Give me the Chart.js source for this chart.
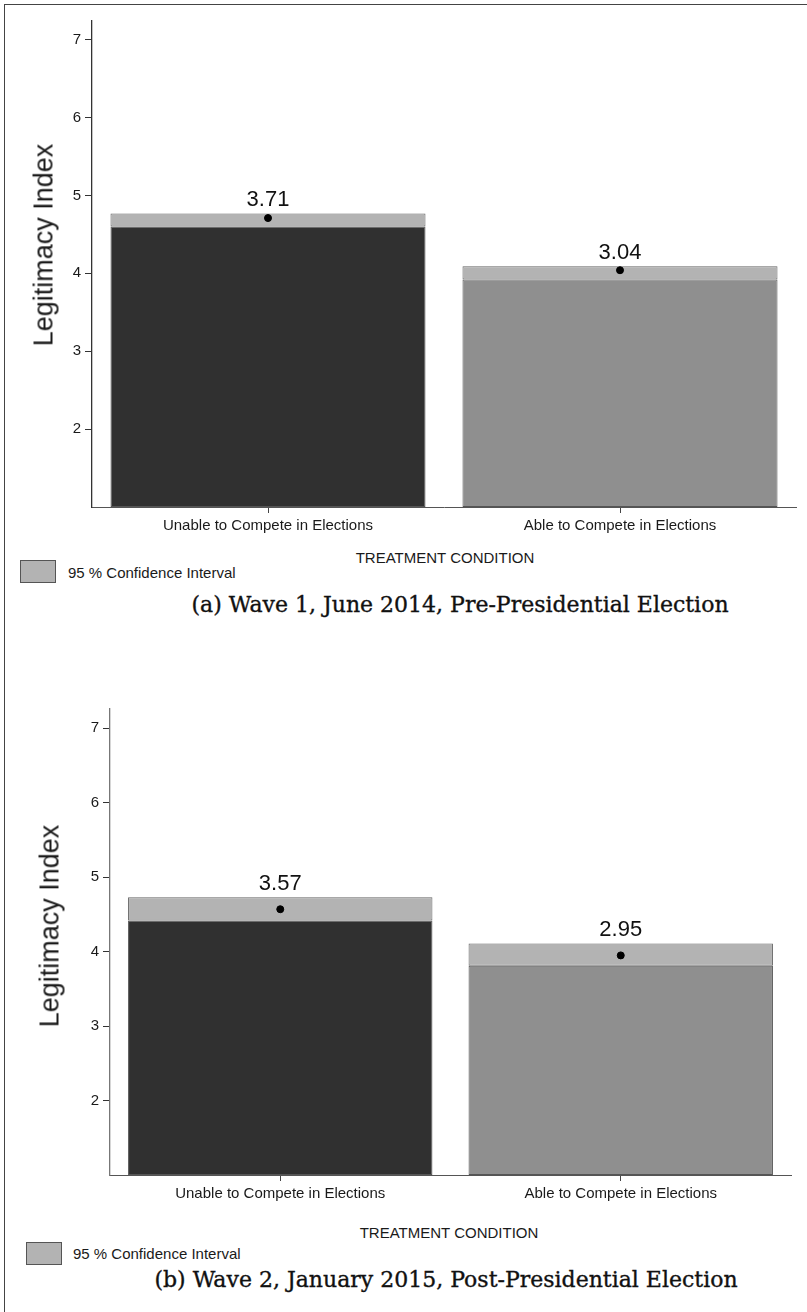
<!DOCTYPE html>
<html>
<head>
<meta charset="utf-8">
<script src="https://cdn.jsdelivr.net/npm/chart.js@4"></script>
<style>
  html, body { margin: 0; padding: 0; background: #fff; }
  body { width: 807px; height: 1312px; position: relative; overflow: hidden; font-family: "Liberation Sans", Arial, sans-serif; color: #1a1a1a; }
  .frame-left { position: absolute; left: 4px; top: 4px; width: 1px; height: 1308px; background: #444; }
  .frame-top { position: absolute; left: 4px; top: 4px; width: 803px; height: 1px; background: #444; }
  canvas { position: absolute; left: 0; }
  .ytitle { position: absolute; font-size: 27px; white-space: nowrap; transform: translate(-50%, -50%) rotate(-90deg); line-height: 1; }
  .xtitle { position: absolute; font-size: 15px; white-space: nowrap; transform: translate(-50%, -50%); line-height: 1; }
  .legend-box { position: absolute; width: 34px; height: 21px; background: #b3b3b3; border: 1px solid #555; }
  .legend-text { position: absolute; font-size: 15px; white-space: nowrap; transform: translateY(-50%); line-height: 1; }
  .caption { position: absolute; font-family: "DejaVu Serif", "Liberation Serif", serif; font-size: 22px; white-space: nowrap; transform: translate(-50%, -50%); line-height: 1; color: #111; -webkit-text-stroke: 0.35px #111; }
</style>
</head>
<body>
<div class="frame-left"></div>
<div class="frame-top"></div>

<canvas id="wave1" width="807" height="545" style="top:0px"></canvas>
<div class="ytitle" style="left:44px; top:245px">Legitimacy Index</div>
<div class="xtitle" style="left:445px; top:557px">TREATMENT CONDITION</div>
<div class="legend-box" style="left:20px; top:560px"></div>
<div class="legend-text" style="left:68px; top:572px">95 % Confidence Interval</div>
<div class="caption" style="left:460px; top:605px">(a) Wave 1, June 2014, Pre-Presidential Election</div>

<canvas id="wave2" width="807" height="545" style="top:670px"></canvas>
<div class="ytitle" style="left:50px; top:926px">Legitimacy Index</div>
<div class="xtitle" style="left:449px; top:1232px">TREATMENT CONDITION</div>
<div class="legend-box" style="left:26px; top:1242px"></div>
<div class="legend-text" style="left:73px; top:1253px">95 % Confidence Interval</div>
<div class="caption" style="left:446px; top:1280px">(b) Wave 2, January 2015, Post-Presidential Election</div>

<script>
// Treatment conditions on the x axis
const categories = ['Unable to Compete in Elections', 'Able to Compete in Elections'];

// Wave 1 (June 2014): mean legitimacy and 95% confidence bounds, measured above the scale floor of 1
const wave1Means = [3.71, 3.04];
const wave1Lower = [3.60, 2.92];
const wave1Upper = [3.77, 3.09];

// Wave 2 (January 2015)
const wave2Means = [3.57, 2.95];
const wave2Lower = [3.42, 2.81];
const wave2Upper = [3.73, 3.11];

// The index scale runs from 1 to 7; bars rise from the floor of 1
const scaleFloor = 1;
const tickLabels = ['2', '3', '4', '5', '6', '7'];

const barFills = ['#303030', '#8f8f8f'];
const ciFill = '#b3b3b3';

// Writes each mean above its confidence box
const meanLabelPlugin = {
  id: 'meanLabels',
  afterDatasetsDraw(chart, args, opts) {
    const { ctx, scales } = chart;
    ctx.save();
    ctx.fillStyle = '#111';
    ctx.font = '22px "Liberation Sans", Arial, sans-serif';
    ctx.textAlign = 'center';
    ctx.textBaseline = 'alphabetic';
    opts.means.forEach((m, i) => {
      const x = scales.x.getPixelForValue(i);
      const y = scales.y.getPixelForValue(opts.upper[i]);
      ctx.fillText(m.toFixed(2), x, y - 7);
    });
    ctx.restore();
  }
};

function buildChart(canvasId, means, lower, upper, layout) {
  const ctx = document.getElementById(canvasId).getContext('2d');
  return new Chart(ctx, {
    type: 'bar',
    data: {
      labels: categories,
      datasets: [
        {
          type: 'line',
          data: means,
          showLine: false,
          pointRadius: 3.5,
          pointHoverRadius: 3.5,
          pointBackgroundColor: '#000',
          pointBorderColor: '#000',
          order: 0
        },
        {
          data: lower.map((lo, i) => [lo, upper[i]]),
          backgroundColor: ciFill,
          borderColor: '#666',
          borderWidth: 1,
          borderSkipped: false,
          grouped: false,
          barPercentage: layout.barPct,
          categoryPercentage: 1,
          order: 1
        },
        {
          data: lower.map(lo => [0, lo]),
          backgroundColor: barFills,
          borderColor: '#555',
          borderWidth: 1,
          borderSkipped: false,
          grouped: false,
          barPercentage: layout.barPct,
          categoryPercentage: 1,
          order: 2
        }
      ]
    },
    options: {
      responsive: false,
      animation: false,
      devicePixelRatio: 1,
      layout: { padding: { left: layout.left - 40, right: 807 - layout.right, top: layout.top, bottom: 0 } },
      plugins: {
        legend: { display: false },
        tooltip: { enabled: false },
        meanLabels: { means, upper }
      },
      scales: {
        x: {
          offset: true,
          afterFit(scale) { scale.height = 545 - layout.bottom; },
          grid: { display: true, drawOnChartArea: false, drawTicks: true, tickLength: 6, offset: false, color: '#444' },
          border: { display: true, color: '#555', width: 1 },
          ticks: { color: '#1a1a1a', padding: 4, font: { family: '"Liberation Sans", Arial, sans-serif', size: 15 } }
        },
        y: {
          min: 0,
          max: layout.yMax,
          afterFit(scale) { scale.width = 40; },
          afterBuildTicks(scale) {
            scale.ticks = tickLabels.map(t => ({ value: Number(t) - scaleFloor }));
          },
          grid: { display: true, drawOnChartArea: false, drawTicks: true, tickLength: 7, color: '#333' },
          border: { display: true, color: layout.yAxisColor, width: 1.3 },
          ticks: {
            color: '#1a1a1a',
            padding: 4,
            font: { family: '"Liberation Sans", Arial, sans-serif', size: 15 },
            callback: v => String(v + scaleFloor)
          }
        }
      }
    },
    plugins: [meanLabelPlugin]
  });
}

buildChart('wave1', wave1Means, wave1Lower, wave1Upper,
  { left: 92, right: 796, top: 21, bottom: 507, yMax: 6.24, barPct: 0.895, yAxisColor: '#333' });
buildChart('wave2', wave2Means, wave2Lower, wave2Upper,
  { left: 110, right: 791, top: 39, bottom: 505, yMax: 6.26, barPct: 0.894, yAxisColor: '#777' });
</script>
</body>
</html>
